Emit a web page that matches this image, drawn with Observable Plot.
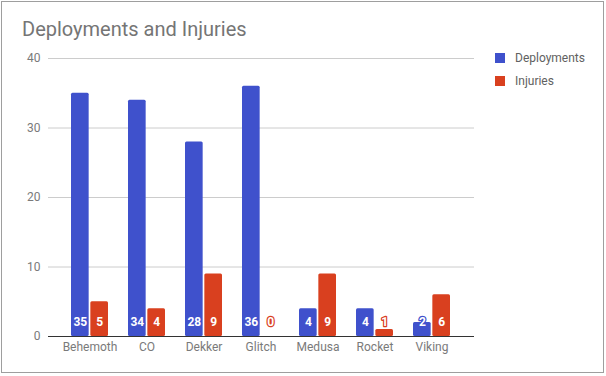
<!DOCTYPE html>
<html><head><meta charset="utf-8">
<script src="https://cdn.jsdelivr.net/npm/d3@7"></script>
<script src="https://cdn.jsdelivr.net/npm/@observablehq/plot@0.6"></script>
<style>
body{margin:0;background:#fff;}
#wrap{position:relative;width:606px;height:376px;font-family:Roboto,sans-serif;overflow:hidden;background:#fff}
#border{position:absolute;left:1px;top:1px;width:603px;height:372px;box-sizing:border-box;border:1px solid #9e9e9e;pointer-events:none}
#title{position:absolute;left:22px;top:17px;font-size:20px;color:#757575;line-height:24px;white-space:nowrap}
#legend{position:absolute;left:495px;top:51px;font-size:12px;color:#616161}
.item{display:flex;align-items:center;height:14px;margin-bottom:9px;white-space:nowrap}
.sw{width:10px;height:10px;margin-right:10px}
#chart{position:absolute;left:0;top:0}
</style></head><body>
<div id="wrap"><div id="chart"></div><div id="title"></div><div id="legend"></div><div id="border"></div></div>
<script>
const titleText = "Deployments and Injuries";
const categories = ["Behemoth", "CO", "Dekker", "Glitch", "Medusa", "Rocket", "Viking"];
const deployments = [35, 34, 28, 36, 4, 4, 2];
const injuries = [5, 4, 9, 0, 9, 1, 6];
const seriesNames = ["Deployments", "Injuries"];
const seriesColors = ["#3f51cc", "#d9401f"];
const yTicks = [0, 10, 20, 30, 40];

const W = 606, H = 376, mL = 48, mR = 132, mT = 58, mB = 40;
const pad = 0.35;
const step = (W - mL - mR) / (categories.length + pad);
const bw = step * (1 - pad);

const dData = categories.map((c, i) => ({category: c, value: deployments[i]}));
const iData = categories.map((c, i) => ({category: c, value: injuries[i]}));

const chart = Plot.plot({
  width: W, height: H,
  marginLeft: mL, marginRight: mR, marginTop: mT, marginBottom: mB,
  style: {fontFamily: "Roboto, sans-serif", fontSize: "12px", color: "#7a7a7a", background: "transparent"},
  x: {type: "band", domain: categories, padding: pad, label: null, tickSize: 0, tickPadding: 6},
  y: {domain: [0, 40], ticks: yTicks, label: null, tickSize: 0, tickPadding: 8},
  marks: [
    Plot.ruleY(yTicks.filter(d => d > 0), {stroke: "#cccccc", strokeWidth: 1}),
    Plot.barY(dData, {x: "category", y: "value", fill: seriesColors[0], insetLeft: 0, insetRight: bw / 2 + 0.5, rx: 1.5}),
    Plot.barY(iData, {x: "category", y: "value", fill: seriesColors[1], insetLeft: bw / 2 + 0.5, insetRight: 0, rx: 1.5}),
    Plot.ruleY([0], {stroke: "#333333", strokeWidth: 1}),
    Plot.text(dData, {x: "category", text: d => String(d.value), frameAnchor: "bottom", dx: -(bw / 4 + 0.25), dy: -11,
      fill: "white", stroke: seriesColors[0], strokeWidth: 2.5, paintOrder: "stroke", fontWeight: "bold", fontSize: 12}),
    Plot.text(iData, {x: "category", text: d => String(d.value), frameAnchor: "bottom", dx: (bw / 4 + 0.25), dy: -11,
      fill: "white", stroke: seriesColors[1], strokeWidth: 2.5, paintOrder: "stroke", fontWeight: "bold", fontSize: 12})
  ]
});
document.getElementById("chart").appendChild(chart);

document.getElementById("title").textContent = titleText;
const leg = d3.select("#legend");
seriesNames.forEach((n, i) => {
  const it = leg.append("div").attr("class", "item");
  it.append("div").attr("class", "sw").style("background", seriesColors[i]);
  it.append("span").text(n);
});
</script>
</body></html>
